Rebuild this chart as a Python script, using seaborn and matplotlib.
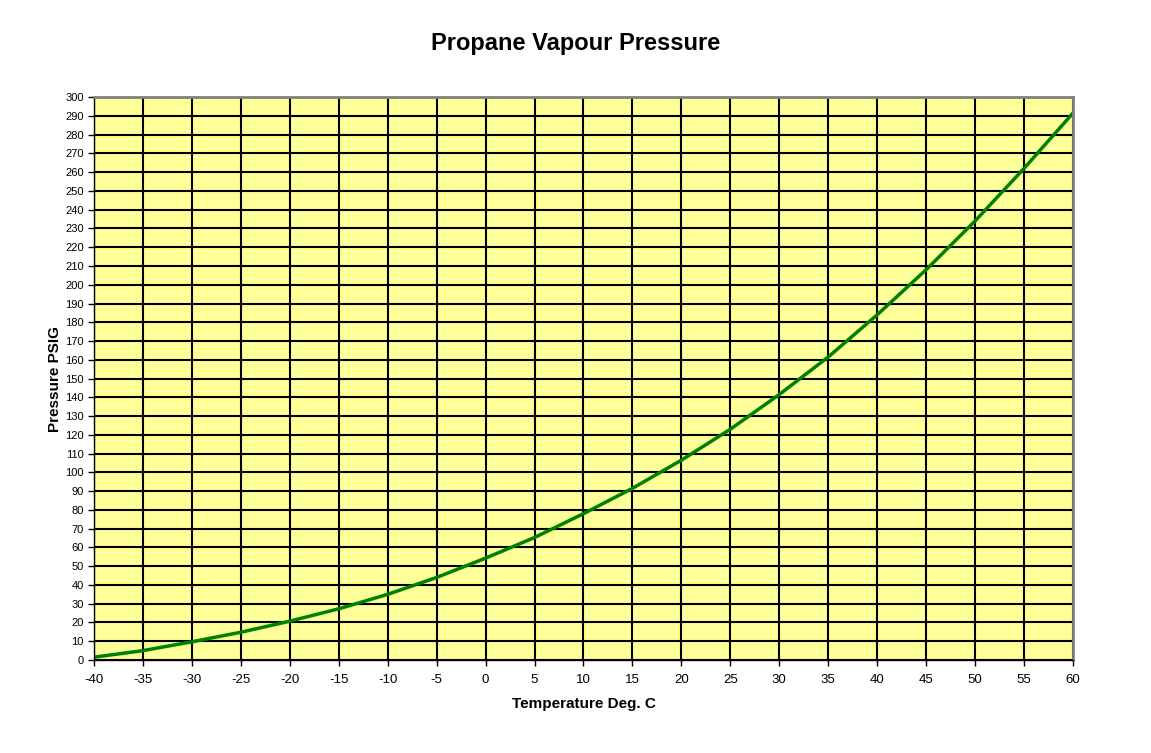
import matplotlib
matplotlib.use('Agg')
import matplotlib.pyplot as plt
from matplotlib.ticker import MultipleLocator
import pandas as pd
import seaborn as sns

# readings, every 5 deg C
temps = [-40, -35, -30, -25, -20, -15, -10, -5, 0, 5, 10, 15, 20, 25, 30, 35, 40, 45, 50, 55, 60]
psig = [1.5, 5, 9.7, 14.8, 20.7, 27.3, 35, 44, 54.3, 65.3, 78, 91.5, 106.5, 123, 141.5, 161.5, 184, 208, 234, 262, 291.5]

df = pd.DataFrame({'Temperature': temps, 'Pressure': psig})

sns.set_style('white')
plt.rcParams['font.family'] = ['Liberation Sans', 'DejaVu Sans']
plt.rcParams['axes.unicode_minus'] = False
plt.rcParams['text.color'] = 'black'
plt.rcParams['axes.labelcolor'] = 'black'

fig = plt.figure(figsize=(11.51, 7.53), dpi=100)
ax = fig.add_axes([0.0817, 0.1235, 0.8505, 0.7475])
ax.set_facecolor('#FFFF99')

sns.lineplot(data=df, x='Temperature', y='Pressure', ax=ax, color='#008000', linewidth=2.5)

ax.set_xlim(-40, 60)
ax.set_ylim(0, 300)
ax.xaxis.set_major_locator(MultipleLocator(5))
ax.yaxis.set_major_locator(MultipleLocator(10))
ax.grid(True, color='black', linewidth=1.5)
ax.set_axisbelow(True)
ax.tick_params(axis='both', direction='out', length=4, width=1, labelsize=8,
               bottom=True, left=True, colors='black')
ax.tick_params(axis='x', labelsize=9.5, pad=6)

for s in ['top', 'right']:
    ax.spines[s].set_color('#808080')
    ax.spines[s].set_linewidth(2)
for s in ['left', 'bottom']:
    ax.spines[s].set_color('black')
    ax.spines[s].set_linewidth(1)

ax.set_xlabel('Temperature Deg. C', fontsize=11, fontweight='bold', labelpad=8)
ax.set_ylabel('Pressure PSIG', fontsize=11, fontweight='bold', labelpad=2)
fig.suptitle('Propane Vapour Pressure', fontsize=17, fontweight='bold', y=0.958)

fig.savefig('out.png', dpi=100)
